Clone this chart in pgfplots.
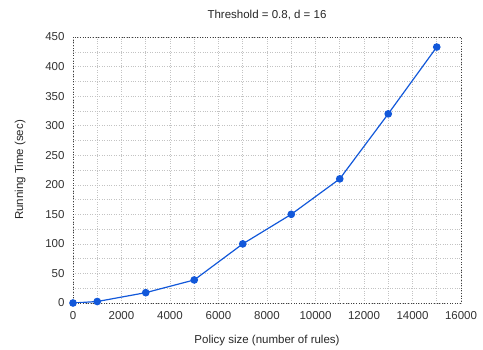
\documentclass[border=0pt]{standalone}
\usepackage{fontspec}
\setmainfont{Liberation Sans}
\usepackage{pgfplots}
\pgfplotsset{compat=1.18}
\definecolor{lineblue}{RGB}{18,88,218}
\definecolor{gridgray}{RGB}{195,195,195}
\begin{document}
\begin{tikzpicture}
\begin{axis}[
  at={(0,0)}, anchor=south west,
  scale only axis, width=388pt, height=266pt,
  xmin=0, xmax=16000, ymin=0, ymax=450,
  xtick={0,2000,...,16000}, ytick={0,50,...,450},
  minor xtick={1000,3000,...,15000}, minor ytick={25,75,...,425},
  grid=both,
  major grid style={gridgray, dotted, line width=0.5pt},
  minor grid style={gridgray, dotted, line width=0.5pt},
  axis line style={black!75, dotted, line width=0.6pt},
  major tick length=0pt, minor tick length=0pt,
  scaled x ticks=false,
  /pgf/number format/assume math mode=true,
  /pgf/number format/.cd, 1000 sep={}, /pgfplots/.cd,
  tick label style={font=\fontsize{11.5}{13}\selectfont, text=black!80},
  label style={font=\fontsize{11.5}{13}\selectfont, text=black!85},
  title style={font=\fontsize{11.5}{13}\selectfont, text=black!85, yshift=7pt},
  title={Threshold = 0.8, d = 16},
  xlabel={Policy size (number of rules)},
  ylabel={Running Time (sec)},
  xticklabel style={yshift=-5pt},
  yticklabel style={xshift=-5pt},
  xlabel style={yshift=-9pt},
  ylabel style={yshift=13pt},
]
\addplot[lineblue, line width=1.2pt, mark=*, mark size=3.2pt, mark options={fill=lineblue, draw=lineblue}]
 coordinates {(0,0) (1000,2.5) (3000,17.5) (5000,39) (7000,100) (9000,150) (11000,210) (13000,320) (15000,433)};
\end{axis}
\path (-73pt,-47pt) rectangle (410pt,303pt);
\end{tikzpicture}
\end{document}
